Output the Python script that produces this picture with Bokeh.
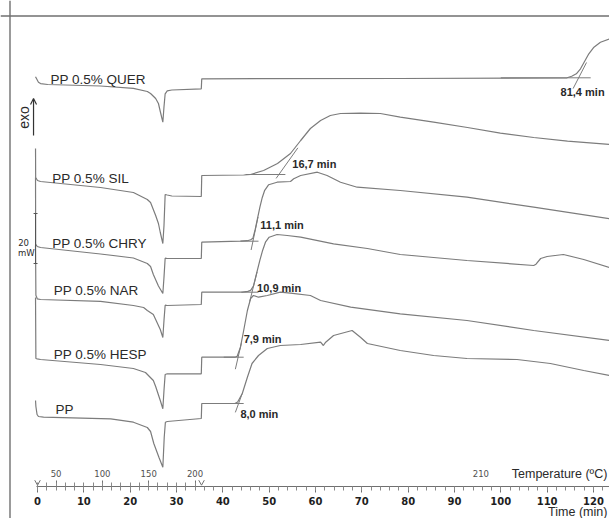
import numpy as np
from bokeh.plotting import figure
from bokeh.models import (Range1d, LinearAxis, FixedTicker, CustomJSTickFormatter,
                          Span, Label, Arrow, OpenHead, ColumnDataSource)
from bokeh.core.properties import value
from bokeh.embed import file_html
from bokeh.resources import INLINE

# ---------------- data ----------------
sample_names = ["PP 0.5% QUER", "PP 0.5% SIL", "PP 0.5% CHRY", "PP 0.5% NAR", "PP 0.5% HESP", "PP"]
oit_min = [81.4, 16.7, 11.1, 10.9, 7.9, 8.0]
oit_labels = ["81,4 min", "16,7 min", "11,1 min", "10,9 min", "7,9 min", "8,0 min"]
curve_offset = [439.7, 343.0, 276.3, 226.3, 161.3, 115.0]   # stacking offsets (a.u.)
t_switch = 35.4          # min, end of heating ramp / gas switch
T_start = 30.0           # ºC
heating_rate = 5.0       # ºC/min
T_iso = 210              # ºC
units_per_mW = 2.5
scale_mW = 20

# heat flow (a.u., exo up) vs time (min)
time_quer = [-0.43, -0.2, 0.2, 0.65, 2.2, 13.6, 20.7, 23.7, 24.4, 25.5, 26.1, 26.5, 27.05, 27.3, 27.55,
             28.0, 29.0, 35.35, 35.45, 78.3, 113.5, 114.3, 115.3, 116.3, 117.2, 118.1, 119.0, 120.1,
             121.5, 123.5]
flow_quer = [2.0, 0.0, -3.5, -4.8, -5.7, -7.2, -9.5, -12.7, -14.7, -19.7, -24.7, -32.7, -43.4, -28.0,
             -15.0, -12.0, -11.2, -10.0, 0.0, 0.3, 0.8, 1.0, 2.5, 5.0, 10.0, 17.5, 25.0, 31.6, 36.6, 40.0]

time_sil = [-0.43, -0.40, 0.0, 0.65, 2.8, 13.6, 20.7, 23.7, 24.4, 25.5, 26.1, 26.5, 27.05, 27.3, 27.55,
            28.0, 29.0, 35.35, 35.45, 44.5, 46.0, 48.8, 51.8, 54.6, 56.8, 58.9, 61.1, 63.2, 65.4, 69.7,
            74.0, 78.3, 85.5, 92.8, 99.9, 107.1, 114.4, 123.5]
flow_sil = [27.0, -2.0, -5.0, -6.0, -7.0, -12.0, -17.0, -24.0, -27.0, -40.0, -48.0, -57.0, -68.0, -50.0,
            -19.0, -19.5, -20.5, -21.0, 0.0, 0.5, 1.0, 5.0, 12.0, 22.0, 35.0, 47.0, 55.0, 60.0, 62.0,
            62.3, 62.0, 58.3, 53.3, 48.0, 42.3, 38.0, 34.3, 31.0]

time_chry = [-0.43, -0.40, -0.06, 0.65, 13.6, 20.7, 23.7, 24.4, 25.0, 26.1, 27.05, 27.3, 27.55, 28.0,
             35.35, 35.45, 43.8, 45.3, 46.0, 46.5, 47.0, 47.5, 48.0, 48.5, 49.0, 49.9, 51.7, 54.6, 55.3,
             56.8, 60.4, 62.5, 65.4, 69.0, 78.3, 92.7, 107.1, 123.5]
flow_chry = [64.7, -2.0, -4.3, -5.3, -11.8, -15.8, -21.3, -24.3, -32.3, -43.8, -51.3, -35.0, -16.0,
             -16.3, -16.3, 0.0, 1.0, 1.5, 2.5, 4.0, 13.0, 24.0, 35.0, 44.5, 51.5, 57.5, 60.0, 60.7, 63.4,
             66.7, 70.0, 66.7, 60.0, 55.0, 51.7, 45.0, 35.0, 23.4]

time_nar = [-0.43, -0.35, -0.06, 0.65, 13.6, 20.7, 22.9, 23.7, 25.0, 25.5, 26.5, 27.05, 27.3, 27.55, 28.0,
            35.35, 35.45, 44.2, 45.4, 46.0, 46.6, 47.3, 48.0, 48.6, 49.2, 50.0, 51.7, 53.9, 56.8, 63.9,
            71.2, 78.3, 85.5, 92.7, 107.1, 107.6, 108.6, 110.0, 113.5, 117.9, 123.5]
flow_nar = [46.7, -3.0, -6.6, -7.3, -9.1, -13.3, -15.3, -18.3, -22.3, -27.3, -37.3, -45.3, -28.0, -13.0,
            -13.3, -12.3, 0.0, 0.0, 0.8, 1.8, 6.0, 19.0, 32.0, 42.0, 50.0, 55.0, 57.7, 56.7, 55.0, 48.4,
            43.7, 37.7, 34.7, 31.7, 26.7, 28.0, 33.7, 35.7, 37.7, 32.7, 24.7]

time_hesp = [-0.43, -0.35, -0.06, 0.65, 13.6, 20.7, 23.3, 25.0, 25.5, 26.5, 27.05, 27.3, 27.55, 28.0,
             35.35, 35.45, 42.6, 43.1, 43.8, 44.5, 45.3, 46.0, 46.6, 47.7, 49.6, 52.4, 54.6, 58.9, 61.1,
             67.6, 78.3, 92.7, 107.1, 123.5]
flow_hesp = [59.7, -1.3, -1.6, -2.3, -7.3, -11.3, -15.3, -23.3, -29.3, -43.3, -51.6, -33.0, -17.3, -16.6,
             -16.6, 0.0, 0.0, 1.0, 10.0, 26.7, 46.7, 58.7, 61.7, 60.0, 61.7, 65.0, 64.0, 61.7, 56.7, 50.0,
             43.4, 36.7, 26.7, 16.7]

time_pp = [-0.43, -0.35, -0.1, 0.2, 1.3, 15.8, 20.7, 23.7, 24.4, 25.1, 26.2, 27.05, 27.35, 27.6, 28.0,
           35.35, 35.45, 42.6, 43.2, 44.2, 45.3, 46.3, 47.7, 49.6, 52.4, 56.8, 61.1, 61.7, 62.2, 63.9,
           67.9, 69.7, 71.2, 78.3, 85.5, 92.7, 103.5, 110.7, 117.9, 123.5]
flow_pp = [3.0, -3.0, -11.0, -13.0, -13.7, -15.3, -18.7, -24.0, -28.0, -40.0, -53.7, -63.7, -33.7, -18.7,
           -18.0, -15.0, 0.0, 0.0, 1.5, 10.0, 26.3, 40.0, 48.0, 55.0, 58.0, 59.0, 61.3, 58.0, 61.3, 68.0,
           73.0, 66.3, 60.0, 53.0, 48.0, 45.0, 44.0, 40.0, 33.0, 28.0]

# onset-tangent construction (per curve)
tangent_slope = [9.0, 6.5, 22.0, 18.5, 20.0, 12.7]     # a.u. per min
tangent_base = [1.0, 1.0, 1.0, 0.0, 0.0, 0.0]

# axis ticks
time_ticks = list(range(0, 121, 10))
time_minor = list(range(0, 126, 2))
temp_ticks = [50, 100, 150, 200]
temp_minor = list(range(30, 201, 10))

# ---------------- layout constants ----------------
base_ext = [(-16.8, 2.6), (-7.2, 1.4), (-2.7, 1.2), (-2.3, 1.4), (-3.1, 1.2), (-2.5, 1.1)]
slope_ext = [(-1.2, 1.7), (-0.6, 4.1), (-0.4, 1.1), (-0.5, 1.1), (-0.6, 0.7), (-0.7, 0.8)]
oit_label_pos = [(-3.9, -12.7), (2.9, 12.0), (1.6, 17.7), (1.1, 4.7), (1.2, 18.4), (0.4, -10.3)]
name_label_pos = [(2.8, -0.7), (3.2, -3.0), (3.2, -1.0), (3.5, 2.2), (3.5, 2.7), (3.9, -5.7)]
AXIS_Y = 32.3
CURVE = "#7c7c7c"
INK = "#2a2a2a"

p = figure(width=609, height=518, x_range=Range1d(-7.99, 123.46), y_range=Range1d(0, 518),
           output_backend="svg", toolbar_location=None, x_axis_type=None, y_axis_type=None,
           min_border_left=0, min_border_right=0, min_border_top=0, min_border_bottom=0,
           outline_line_color=None, background_fill_color="white", border_fill_color="white")

# frame (left + top border)
p.add_layout(Span(location=-5.94, dimension="height", line_color="#6f6f6f", line_width=1.4))
p.add_layout(Span(location=502.5, dimension="width", line_color="#6f6f6f", line_width=1.4))

times = [time_quer, time_sil, time_chry, time_nar, time_hesp, time_pp]
flows = [flow_quer, flow_sil, flow_chry, flow_nar, flow_hesp, flow_pp]
for tt, ff, off in zip(times, flows, curve_offset):
    p.line(x=tt, y=np.array(ff) + off, line_color=CURVE, line_width=1.2)

# onset tangents
bx0, bx1, by, sx0, sx1, sy0, sy1 = [], [], [], [], [], [], []
for i in range(6):
    ton = t_switch + oit_min[i]
    yb = curve_offset[i] + tangent_base[i]
    bx0.append(ton + base_ext[i][0]); bx1.append(ton + base_ext[i][1]); by.append(yb)
    sx0.append(ton + slope_ext[i][0]); sx1.append(ton + slope_ext[i][1])
    sy0.append(yb + tangent_slope[i] * slope_ext[i][0]); sy1.append(yb + tangent_slope[i] * slope_ext[i][1])
p.segment(x0=bx0, y0=by, x1=bx1, y1=by, line_color=CURVE, line_width=1.0)
p.segment(x0=sx0, y0=sy0, x1=sx1, y1=sy1, line_color=CURVE, line_width=1.0)

# onset labels
oit_src = ColumnDataSource(dict(
    x=[t_switch + oit_min[i] + oit_label_pos[i][0] for i in range(6)],
    y=[curve_offset[i] + oit_label_pos[i][1] for i in range(6)],
    text=oit_labels))
p.text(x="x", y="y", text="text", source=oit_src, text_font=value("Liberation Sans"),
       text_font_size=value("11px"), text_font_style="bold", text_color=INK,
       text_align="left", text_baseline="middle")

# sample names
name_src = ColumnDataSource(dict(
    x=[name_label_pos[i][0] for i in range(6)],
    y=[curve_offset[i] + name_label_pos[i][1] for i in range(6)],
    text=sample_names))
p.text(x="x", y="y", text="text", source=name_src, text_font=value("Liberation Sans"),
       text_font_size=value("13.5px"), text_color=INK, text_align="left", text_baseline="middle")

# time axis
time_axis = LinearAxis(fixed_location=AXIS_Y,
                       ticker=FixedTicker(ticks=time_ticks, minor_ticks=time_minor),
                       bounds=(-0.3, 130),
                       axis_line_color="#707070", axis_line_width=1.2,
                       major_tick_line_color="#707070", minor_tick_line_color="#8a8a8a",
                       major_tick_out=6, major_tick_in=0, minor_tick_out=4, minor_tick_in=0,
                       major_label_text_font="DejaVu Sans", major_label_text_font_size="10px",
                       major_label_text_font_style="bold", major_label_text_color="#1e1e1e",
                       major_label_standoff=5)
p.add_layout(time_axis, "below")

# temperature axis (heating segment)
t_of = lambda T: (T - T_start) / heating_rate
temp_axis = LinearAxis(fixed_location=AXIS_Y,
                       ticker=FixedTicker(ticks=[t_of(T) for T in temp_ticks],
                                          minor_ticks=[t_of(T) for T in temp_minor]),
                       formatter=CustomJSTickFormatter(args=dict(t0=T_start, rate=heating_rate),
                                                       code="return (t0 + rate*tick).toFixed(0)"),
                       bounds=(0, t_switch),
                       axis_line_color=None,
                       major_tick_line_color="#707070", minor_tick_line_color="#8a8a8a",
                       major_tick_out=6, major_tick_in=0, minor_tick_out=4, minor_tick_in=0,
                       major_label_text_font="DejaVu Sans", major_label_text_font_size="8.5px",
                       major_label_text_color="#505050", major_label_standoff=3)
p.add_layout(temp_axis, "above")

# segment ends marks on the axis line
ends = [0.0, t_switch]
p.segment(x0=ends, y0=[AXIS_Y + 1] * 2, x1=[e - 0.6 for e in ends], y1=[AXIS_Y + 6] * 2,
          line_color="#707070", line_width=1.0)
p.segment(x0=ends, y0=[AXIS_Y + 1] * 2, x1=[e + 0.6 for e in ends], y1=[AXIS_Y + 6] * 2,
          line_color="#707070", line_width=1.0)

p.add_layout(Label(x=95.7, y=45, text=str(T_iso), text_font="DejaVu Sans", text_font_size="8.5px",
                   text_color="#505050", text_align="center", text_baseline="middle"))
p.add_layout(Label(x=123.0, y=45, text="Temperature (ºC)", text_font="Liberation Sans",
                   text_font_size="12.5px", text_color=INK, text_align="right", text_baseline="middle"))
p.add_layout(Label(x=123.0, y=6.5, text="Time (min)", text_font="Liberation Sans",
                   text_font_size="12.5px", text_color=INK, text_align="right", text_baseline="middle"))

# exo arrow
p.add_layout(Arrow(end=OpenHead(size=6, line_color="#333333", line_width=1.2),
                   x_start=-0.86, y_start=383, x_end=-0.86, y_end=420,
                   line_color="#333333", line_width=1.2))
p.add_layout(Label(x=-3.0, y=401, text="exo", angle=np.pi / 2, text_font="Liberation Sans",
                   text_font_size="14px", text_color=INK, text_align="center", text_baseline="middle"))

# scale bar 20 mW
bar_top = 305.0
bar_bot = bar_top - scale_mW * units_per_mW
p.segment(x0=[-0.43, -0.85, -0.85], y0=[bar_bot, bar_top, bar_bot],
          x1=[-0.43, 0.0, 0.0], y1=[bar_top, bar_top, bar_bot], line_color="#555555", line_width=1.0)
p.add_layout(Label(x=-3.0, y=276, text=str(scale_mW), text_font="DejaVu Sans", text_font_size="8.5px",
                   text_color=INK, text_align="center", text_baseline="middle"))
p.add_layout(Label(x=-2.4, y=266, text="mW", text_font="DejaVu Sans", text_font_size="8.5px",
                   text_color=INK, text_align="center", text_baseline="middle"))

open("out.html", "w").write(file_html(p, INLINE))
